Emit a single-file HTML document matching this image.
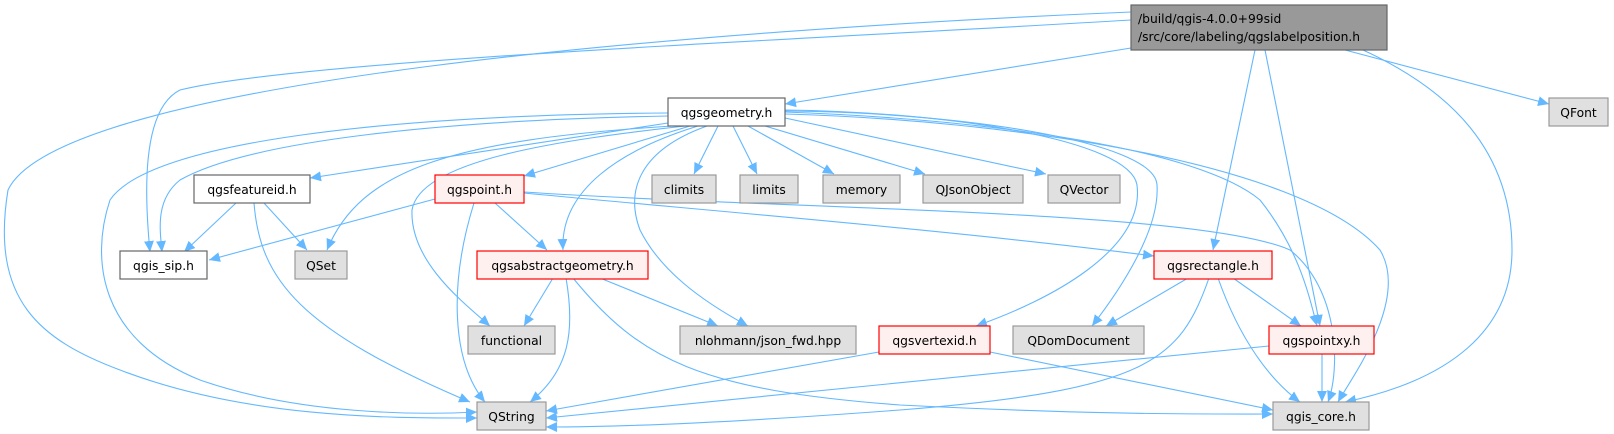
<!DOCTYPE html>
<html><head><meta charset="utf-8"><style>
html,body{margin:0;padding:0;background:#fff;width:1614px;height:434px;overflow:hidden}
svg{display:block}
text{font-family:"DejaVu Sans","Liberation Sans",sans-serif;font-size:12.3px;fill:#000}
.e{fill:none;stroke:#63b8ff;stroke-width:1.1;marker-end:url(#a)}
</style></head><body>
<svg width="1614" height="434" viewBox="0 0 1614 434" xmlns="http://www.w3.org/2000/svg">
<defs><marker id="a" viewBox="0 0 10 10" refX="10" refY="5" markerWidth="11" markerHeight="11" markerUnits="userSpaceOnUse" orient="auto"><path d="M0,0.5 L10,5 L0,9.5 z" fill="#63b8ff"/></marker></defs>
<g>
<!-- root edges -->
<path class="e" d="M1131,12 C700,30 60,80 8,190 C-10,300 40,340 120,370 C250,420 400,418 477,418"/>
<path class="e" d="M1131,20 C800,40 300,60 180,90 C140,110 145,200 150,252"/>
<path class="e" d="M1131,48 L785,104"/>
<path class="e" d="M1255,50 L1213,250"/>
<path class="e" d="M1265,50 L1320,326"/>
<path class="e" d="M1363,50 C1450,90 1512,150 1512,250 C1512,330 1450,380 1345,402"/>
<path class="e" d="M1345,50 L1549,104"/>
<!-- qgsgeometry edges -->
<path class="e" d="M668,113 C400,115 150,140 110,200 C90,260 100,340 200,380 C300,415 420,415 477,412"/>
<path class="e" d="M668,116 C450,120 250,140 180,180 C155,200 160,230 162,252"/>
<path class="e" d="M668,123 L310,178"/>
<path class="e" d="M672,126 C450,140 360,170 327,250"/>
<path class="e" d="M685,126 C560,140 420,160 412,210 C410,260 460,300 490,326"/>
<path class="e" d="M690,126 L524,176"/>
<path class="e" d="M698,126 C620,150 560,190 563,250"/>
<path class="e" d="M707,126 C640,150 625,190 640,230 C660,270 700,300 748,326"/>
<path class="e" d="M718,126 L694,174"/>
<path class="e" d="M733,126 L757,174"/>
<path class="e" d="M748,126 L834,174"/>
<path class="e" d="M765,126 L925,174"/>
<path class="e" d="M785,118 L1046,174"/>
<path class="e" d="M785,110 C950,112 1130,140 1137,185 C1145,250 1050,300 976,326"/>
<path class="e" d="M785,111 C950,112 1155,140 1157,185 C1160,230 1120,290 1092,326"/>
<path class="e" d="M785,112 C1000,120 1200,150 1260,200 C1300,250 1310,300 1317,326"/>
<path class="e" d="M785,114 C1000,120 1300,160 1380,250 C1410,300 1350,380 1338,402"/>
<!-- qgsfeatureid -->
<path class="e" d="M236,203 L184,252"/>
<path class="e" d="M264,203 L307,250"/>
<path class="e" d="M254,203 C260,280 300,330 470,402"/>
<!-- qgspoint -->
<path class="e" d="M435,199 L209,260"/>
<path class="e" d="M474,203 C450,280 450,360 485,402"/>
<path class="e" d="M495,203 L547,250"/>
<path class="e" d="M524,193 C700,210 950,230 1154,256"/>
<path class="e" d="M524,192 C800,210 1200,210 1290,250 C1340,290 1340,370 1328,402"/>
<!-- qgsabstractgeometry -->
<path class="e" d="M553,278 L524,326"/>
<path class="e" d="M566,278 C575,330 570,370 530,402"/>
<path class="e" d="M600,278 L718,326"/>
<path class="e" d="M573,278 C640,360 700,390 900,405 C1100,415 1200,414 1273,414"/>
<!-- qgsrectangle -->
<path class="e" d="M1188,278 L1106,326"/>
<path class="e" d="M1233,278 L1301,326"/>
<path class="e" d="M1209,278 C1180,360 1150,390 900,410 C700,425 600,427 546,427"/>
<path class="e" d="M1218,278 C1240,340 1270,380 1300,402"/>
<!-- qgsvertexid -->
<path class="e" d="M879,352 L546,411"/>
<path class="e" d="M990,352 L1273,410"/>
<!-- qgspointxy -->
<path class="e" d="M1269,346 L546,418"/>
<path class="e" d="M1322,354 L1322,402"/>
</g>
<g stroke-width="1.2">
<rect x="1131" y="5" width="256" height="45" fill="#999" stroke="#666"/>
<text x="1138" y="23">/build/qgis-4.0.0+99sid</text>
<text x="1138" y="41">/src/core/labeling/qgslabelposition.h</text>
<rect x="668" y="98" width="117" height="28" fill="#fff" stroke="#666"/><text x="726.5" y="117" text-anchor="middle">qgsgeometry.h</text>
<rect x="1549" y="98" width="59" height="28" fill="#e0e0e0" stroke="#999"/><text x="1578.5" y="117" text-anchor="middle">QFont</text>
<rect x="194" y="175" width="116" height="28" fill="#fff" stroke="#666"/><text x="252" y="194" text-anchor="middle">qgsfeatureid.h</text>
<rect x="435" y="175" width="89" height="28" fill="#fff0f0" stroke="#f00"/><text x="479.5" y="194" text-anchor="middle">qgspoint.h</text>
<rect x="652" y="175" width="64" height="28" fill="#e0e0e0" stroke="#999"/><text x="684" y="194" text-anchor="middle">climits</text>
<rect x="740" y="175" width="58" height="28" fill="#e0e0e0" stroke="#999"/><text x="769" y="194" text-anchor="middle">limits</text>
<rect x="823" y="175" width="77" height="28" fill="#e0e0e0" stroke="#999"/><text x="861.5" y="194" text-anchor="middle">memory</text>
<rect x="923" y="175" width="100" height="28" fill="#e0e0e0" stroke="#999"/><text x="973" y="194" text-anchor="middle">QJsonObject</text>
<rect x="1048" y="175" width="72" height="28" fill="#e0e0e0" stroke="#999"/><text x="1084" y="194" text-anchor="middle">QVector</text>
<rect x="120" y="251" width="87" height="28" fill="#fff" stroke="#666"/><text x="163.5" y="270" text-anchor="middle">qgis_sip.h</text>
<rect x="295" y="251" width="52" height="28" fill="#e0e0e0" stroke="#999"/><text x="321" y="270" text-anchor="middle">QSet</text>
<rect x="477" y="251" width="171" height="28" fill="#fff0f0" stroke="#f00"/><text x="562.5" y="270" text-anchor="middle">qgsabstractgeometry.h</text>
<rect x="1154" y="251" width="118" height="28" fill="#fff0f0" stroke="#f00"/><text x="1213" y="270" text-anchor="middle">qgsrectangle.h</text>
<rect x="468" y="326" width="87" height="28" fill="#e0e0e0" stroke="#999"/><text x="511.5" y="345" text-anchor="middle">functional</text>
<rect x="680" y="326" width="176" height="28" fill="#e0e0e0" stroke="#999"/><text x="768" y="345" text-anchor="middle">nlohmann/json_fwd.hpp</text>
<rect x="879" y="326" width="111" height="28" fill="#fff0f0" stroke="#f00"/><text x="934.5" y="345" text-anchor="middle">qgsvertexid.h</text>
<rect x="1013" y="326" width="131" height="28" fill="#e0e0e0" stroke="#999"/><text x="1078.5" y="345" text-anchor="middle">QDomDocument</text>
<rect x="1269" y="326" width="105" height="28" fill="#fff0f0" stroke="#f00"/><text x="1321.5" y="345" text-anchor="middle">qgspointxy.h</text>
<rect x="477" y="402" width="69" height="28" fill="#e0e0e0" stroke="#999"/><text x="511.5" y="421" text-anchor="middle">QString</text>
<rect x="1273" y="402" width="96" height="28" fill="#e0e0e0" stroke="#999"/><text x="1321" y="421" text-anchor="middle">qgis_core.h</text>
</g>
</svg>
</body></html>
